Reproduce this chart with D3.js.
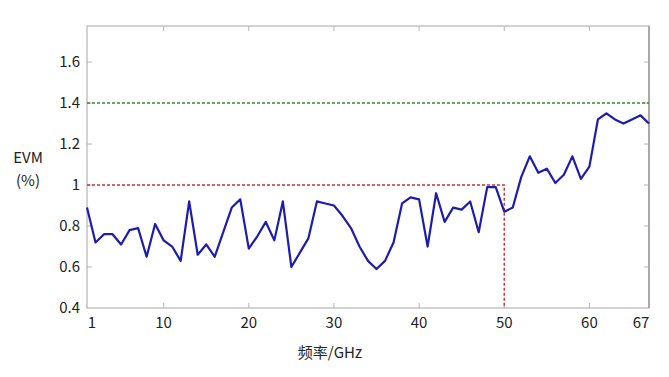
<!DOCTYPE html>
<html>
<head>
<meta charset="utf-8">
<script src="https://cdn.jsdelivr.net/npm/d3@7"></script>
<style>
  body { margin: 0; background: #fff; }
  text { font-family: "Noto Sans CJK SC", "Noto Sans", sans-serif; fill: #222; }
</style>
</head>
<body>
<div id="chart"></div>
<script>
const width = 669, height = 377;
const margin = { top: 26, right: 20, bottom: 69, left: 87 };

// EVM (%) at each frequency 1..67 GHz
const freqs = d3.range(1, 68);
const evm = [
  0.89, 0.72, 0.76, 0.76, 0.71, 0.78, 0.79, 0.65, 0.81, 0.73,
  0.70, 0.63, 0.92, 0.66, 0.71, 0.65, 0.77, 0.89, 0.93, 0.69,
  0.75, 0.82, 0.73, 0.92, 0.60, 0.67, 0.74, 0.92, 0.91, 0.90,
  0.85, 0.79, 0.70, 0.63, 0.59, 0.63, 0.72, 0.91, 0.94, 0.93,
  0.70, 0.96, 0.82, 0.89, 0.88, 0.92, 0.77, 0.99, 0.99, 0.87,
  0.89, 1.04, 1.14, 1.06, 1.08, 1.01, 1.05, 1.14, 1.03, 1.09,
  1.32, 1.35, 1.32, 1.30, 1.32, 1.34, 1.30
];
const xTicks = [1, 10, 20, 30, 40, 50, 60, 67];
const yTicks = [0.4, 0.6, 0.8, 1.0, 1.2, 1.4, 1.6];
const upperLimit = 1.4;   // green dashed
const lowerLimit = 1.0;   // red dashed, up to 50 GHz
const lowerLimitEnd = 50;

const svg = d3.select("#chart").append("svg")
  .attr("width", width).attr("height", height);

const x = d3.scaleLinear().domain([1, 67]).range([margin.left, width - margin.right]);
const y = d3.scaleLinear().domain([0.4, 1.776]).range([height - margin.bottom, margin.top]);

const x0 = x.range()[0], x1 = x.range()[1];
const yb = y.range()[0], yt = y.range()[1];

// frame
svg.append("rect")
  .attr("x", x0).attr("y", yt)
  .attr("width", x1 - x0).attr("height", yb - yt)
  .attr("fill", "none").attr("stroke", "#b5b5b5").attr("stroke-width", 1.2);
svg.append("line")
  .attr("x1", x1).attr("x2", x1).attr("y1", yt).attr("y2", yb)
  .attr("stroke", "#a8a8a8").attr("stroke-width", 2);

// inner tick marks on all four sides
const tickLen = 5;
const inner = xTicks.filter(d => d !== 1 && d !== 67);
svg.selectAll(".tb").data(inner).join("line")
  .attr("x1", d => x(d)).attr("x2", d => x(d))
  .attr("y1", yb).attr("y2", yb - tickLen)
  .attr("stroke", "#b5b5b5");
svg.selectAll(".tt").data(inner).join("line")
  .attr("x1", d => x(d)).attr("x2", d => x(d))
  .attr("y1", yt).attr("y2", yt + tickLen)
  .attr("stroke", "#b5b5b5");
const innerY = yTicks.filter(d => d !== 0.4);
svg.selectAll(".tl").data(innerY).join("line")
  .attr("x1", x0).attr("x2", x0 + tickLen)
  .attr("y1", d => y(d)).attr("y2", d => y(d))
  .attr("stroke", "#b5b5b5");
svg.selectAll(".tr").data(innerY).join("line")
  .attr("x1", x1).attr("x2", x1 - tickLen)
  .attr("y1", d => y(d)).attr("y2", d => y(d))
  .attr("stroke", "#b5b5b5");

// tick labels
svg.selectAll(".xl").data(xTicks).join("text")
  .attr("x", d => x(d) + (d === 1 ? 5 : d === 67 ? -8 : 0))
  .attr("y", yb + 20)
  .attr("text-anchor", "middle")
  .style("font-size", "15px")
  .text(d => d);
svg.selectAll(".yl").data(yTicks).join("text")
  .attr("x", x0 - 7)
  .attr("y", d => y(d))
  .attr("dy", "0.35em")
  .attr("text-anchor", "end")
  .style("font-size", "15px")
  .text(d => d3.format("~g")(d));

// axis titles
svg.append("text")
  .attr("x", (x0 + x1) / 2 - 38).attr("y", 358)
  .attr("text-anchor", "middle")
  .style("font-size", "15px")
  .text("频率/GHz");
svg.append("text")
  .attr("x", 28).attr("y", 163)
  .attr("text-anchor", "middle")
  .style("font-size", "15px")
  .text("EVM");
svg.append("text")
  .attr("x", 28).attr("y", 186)
  .attr("text-anchor", "middle")
  .style("font-size", "15px")
  .text("(%)");

// limit lines
svg.append("line")
  .attr("x1", x0).attr("x2", x1)
  .attr("y1", y(upperLimit)).attr("y2", y(upperLimit))
  .attr("stroke", "#2f8a2f").attr("stroke-width", 1.6)
  .attr("stroke-dasharray", "3,2");
svg.append("path")
  .attr("d", d3.line()([
    [x(1), y(lowerLimit)],
    [x(lowerLimitEnd), y(lowerLimit)],
    [x(lowerLimitEnd), y(0.4)]
  ]))
  .attr("fill", "none")
  .attr("stroke", "#cc2f36").attr("stroke-width", 1.4)
  .attr("stroke-dasharray", "3,2");

// EVM curve
const line = d3.line().x((d, i) => x(freqs[i])).y(d => y(d));
svg.append("path")
  .datum(evm)
  .attr("d", line)
  .attr("fill", "none")
  .attr("stroke", "#1c1caf")
  .attr("stroke-width", 2.2)
  .attr("stroke-linejoin", "round");
</script>
</body>
</html>
